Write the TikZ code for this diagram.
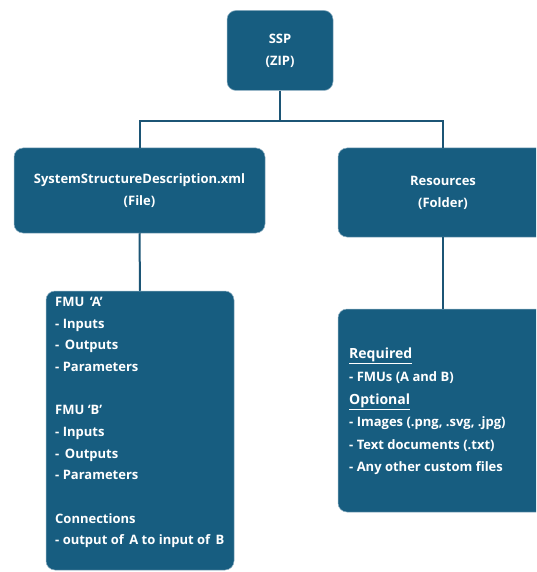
\documentclass[tikz,border=0pt]{standalone}
\usepackage{fontspec}
\setmainfont{Open Sans}
\definecolor{boxfill}{HTML}{175D80}
\definecolor{boxedge}{HTML}{8FB0C3}
\definecolor{wire}{HTML}{1C5575}
\tikzset{
  boxshape/.style={fill=boxfill, draw=boxedge, line width=0.5pt, rounded corners=9pt,
    inner sep=0pt, text=white, font=\bfseries\fontsize{13}{22}\selectfont, align=center},
  listtext/.style={anchor=north west, inner sep=0pt, text=white, align=left},
  wireline/.style={draw=wire, line width=2pt}
}
\begin{document}
\begin{tikzpicture}[x=1pt, y=-1pt]
  \useasboundingbox (0,0) rectangle (536,572);
  \clip (0,0) rectangle (536,572);
  \fill[white] (0,0) rectangle (536,572);

  % top-level archive and its two members
  \node[boxshape, minimum width=106pt, minimum height=80pt] (ssp) at (280,50.5) {SSP\\(ZIP)};
  \node[boxshape, minimum width=251pt, minimum height=85pt] (ssd) at (139.5,190.5) {SystemStructureDescription.xml\\(File)};
  \node[boxshape, minimum width=210pt, minimum height=89pt] (res) at (443,192.5) {Resources\\(Folder)};

  % content boxes
  \node[boxshape, minimum width=188pt, minimum height=279pt] (fmu) at (140,430.5) {};
  \node[boxshape, minimum width=210pt, minimum height=203pt] (files) at (443,410.5) {};

  % connectors
  \draw[wireline] (ssp.south) -- ++(0,30) coordinate (split) -| (ssd.north);
  \draw[wireline] (split) -| (res.north);
  \draw[wireline] (ssd.south) -- (fmu.north);
  \draw[wireline] (res.south) -- (files.north);

  % system structure contents
  \node[listtext, font=\bfseries\fontsize{13}{21.65}\selectfont] (fmutext) at (55,297)
    {FMU\, ‘A’\\- Inputs\\-\, Outputs\\- Parameters\\[21.65pt]
     FMU ‘B’\\- Inputs\\-\, Outputs\\- Parameters\\[21.65pt]
     Connections\\- output of\, A to input of\, B};

  % resource contents
  \node[listtext, font=\bfseries\fontsize{13}{22.6}\selectfont] (filetext) at (349,348)
    {{\fontsize{14}{22.6}\selectfont\underline{Required}}\\- FMUs (A and B)\\
     {\fontsize{14}{22.6}\selectfont\underline{Optional}}\\- Images (.png, .svg, .jpg)\\
     - Text documents (.txt)\\- Any other custom files};
\end{tikzpicture}
\end{document}
